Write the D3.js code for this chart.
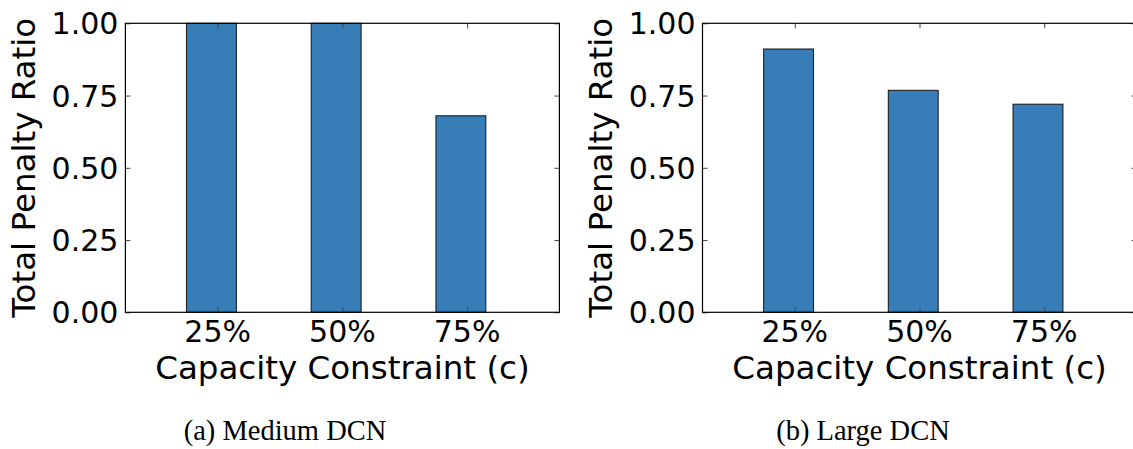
<!DOCTYPE html>
<html>
<head>
<meta charset="utf-8">
<script src="https://cdn.jsdelivr.net/npm/d3@7"></script>
<style>
  html, body { margin: 0; padding: 0; background: #fff; }
  svg { display: block; }
</style>
</head>
<body>
<svg id="chart" width="1133" height="449"></svg>
<script>
// ---- data ----
const categories = ["25%", "50%", "75%"];
const mediumValues = [1.0, 1.0, 0.68];
const largeValues = [0.911, 0.768, 0.72];
const yTicks = [0, 0.25, 0.5, 0.75, 1.0];
const yTickLabels = ["0.00", "0.25", "0.50", "0.75", "1.00"];
const xLabel = "Capacity Constraint (c)";
const yLabel = "Total Penalty Ratio";
const captions = ["(a) Medium DCN", "(b) Large DCN"];

const svg = d3.select("#chart");

const panels = [
  { values: mediumValues, caption: captions[0], left: 125.4, captionX: 285 },
  { values: largeValues, caption: captions[1], left: 702.5, captionX: 863 }
];

const axW = 434, axTop = 23.3, axBottom = 312.3;
const sansFont = "'DejaVu Sans', sans-serif";

panels.forEach(p => {
  const g = svg.append("g");
  const x = d3.scaleLinear().domain([-0.74, 2.74]).range([p.left, p.left + axW]);
  const y = d3.scaleLinear().domain([0, 1]).range([axBottom, axTop]);
  const idx = categories.map((c, i) => i);

  // bars
  g.selectAll("rect.bar").data(p.values).enter().append("rect")
    .attr("class", "bar")
    .attr("x", (d, i) => x(i - 0.25))
    .attr("width", (d, i) => x(i + 0.15) - x(i - 0.25))
    .attr("y", d => y(d))
    .attr("height", d => y(0) - y(d))
    .attr("fill", "#377eb8")
    .attr("stroke", "#111")
    .attr("stroke-opacity", 0.9)
    .attr("stroke-width", 1.1);

  // inside ticks via d3 axes
  const tl = 5;
  const axB = d3.axisBottom(x).tickValues(idx).tickSize(-tl).tickFormat("");
  const axT = d3.axisTop(x).tickValues(idx).tickSize(-tl).tickFormat("");
  const axL = d3.axisLeft(y).tickValues(yTicks).tickSize(-tl).tickFormat("");
  const axR = d3.axisRight(y).tickValues(yTicks).tickSize(-tl).tickFormat("");
  [[axB, `translate(0,${axBottom})`], [axT, `translate(0,${axTop})`],
   [axL, `translate(${p.left},0)`], [axR, `translate(${p.left + axW},0)`]].forEach(([a, t]) => {
    const ag = g.append("g").attr("transform", t).call(a);
    ag.select(".domain").remove();
    ag.selectAll(".tick line").attr("stroke", "#444").attr("stroke-width", 1);
  });

  // frame
  g.append("rect")
    .attr("x", p.left).attr("y", axTop)
    .attr("width", axW).attr("height", axBottom - axTop)
    .attr("fill", "none").attr("stroke", "#000").attr("stroke-width", 1.2);

  // y tick labels
  g.selectAll("text.ytl").data(yTicks).enter().append("text")
    .attr("x", p.left - 7)
    .attr("y", d => y(d) + 11)
    .attr("text-anchor", "end")
    .attr("font-family", sansFont)
    .attr("font-size", 30)
    .attr("fill", "#000")
    .text((d, i) => yTickLabels[i]);

  // x tick labels
  g.selectAll("text.xtl").data(categories).enter().append("text")
    .attr("x", (d, i) => x(i))
    .attr("y", 341.7)
    .attr("text-anchor", "middle")
    .attr("font-family", sansFont)
    .attr("font-size", 30)
    .attr("fill", "#000")
    .text(d => d);

  // x label
  g.append("text")
    .attr("x", p.left + axW / 2)
    .attr("y", 378.5)
    .attr("text-anchor", "middle")
    .attr("font-family", sansFont)
    .attr("font-size", 32.5)
    .attr("fill", "#000")
    .text(xLabel);

  // y label
  g.append("text")
    .attr("transform", `translate(${p.left - 90.5},${(axTop + axBottom) / 2}) rotate(-90)`)
    .attr("text-anchor", "middle")
    .attr("font-family", sansFont)
    .attr("font-size", 32.5)
    .attr("fill", "#000")
    .text(yLabel);

  // caption
  g.append("text")
    .attr("x", p.captionX)
    .attr("y", 440)
    .attr("text-anchor", "middle")
    .attr("font-family", "'Liberation Serif', 'DejaVu Serif', serif")
    .attr("font-size", 28.5)
    .attr("fill", "#000")
    .text(p.caption);
});
</script>
</body>
</html>
